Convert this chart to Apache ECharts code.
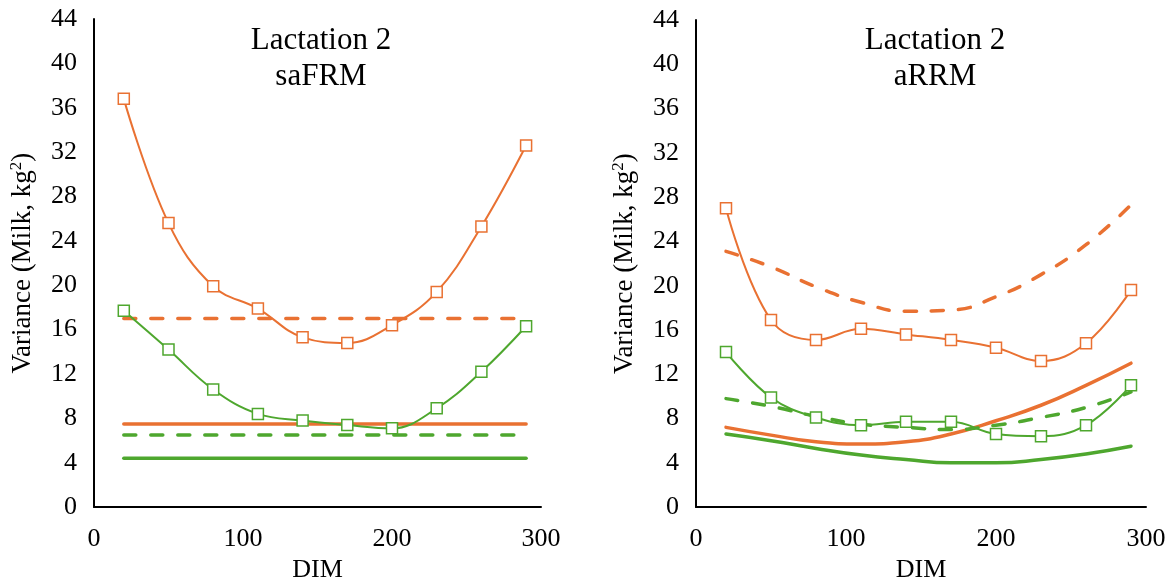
<!DOCTYPE html>
<html>
<head>
<meta charset="utf-8">
<script src="https://cdn.jsdelivr.net/npm/echarts@6/dist/echarts.min.js"></script>
<style>
  html, body { margin: 0; padding: 0; background: #fff; }
  #chart { width: 1174px; height: 588px; }
</style>
</head>
<body>
<div id="chart"></div>
<script>
// days in milk
const dim = [20, 50, 80, 110, 140, 170, 200, 230, 260, 290];

// left panel: saFRM
const saOrangeMarked = [36.8, 25.6, 19.9, 17.9, 15.3, 14.8, 16.4, 19.4, 25.3, 32.6];
const saGreenMarked = [17.7, 14.2, 10.6, 8.4, 7.8, 7.4, 7.1, 8.9, 12.2, 16.3];
const saOrangeDashed = 17.0;
const saOrangeSolid = 7.5;
const saGreenDashed = 6.5;
const saGreenSolid = 4.4;

// right panel: aRRM
const arOrangeMarked = [27.0, 16.9, 15.1, 16.1, 15.6, 15.1, 14.4, 13.2, 14.8, 19.6];
const arGreenMarked = [14.0, 9.9, 8.1, 7.4, 7.7, 7.7, 6.6, 6.4, 7.4, 11.0];
const arOrangeDashed = [23.1, 21.7, 19.9, 18.5, 17.7, 17.8, 19.0, 21.0, 23.7, 27.3];
const arOrangeSolid = [7.2, 6.5, 5.9, 5.7, 5.9, 6.6, 7.8, 9.2, 11.0, 13.0];
const arGreenDashed = [9.8, 9.1, 8.2, 7.5, 7.2, 7.0, 7.4, 8.1, 9.0, 10.4];
const arGreenSolid = [6.6, 6.0, 5.3, 4.7, 4.3, 4.0, 4.0, 4.3, 4.8, 5.5];

const ORANGE = '#E97132';
const GREEN = '#4EA72E';
const FONT = "'Liberation Serif', 'DejaVu Serif', serif";

function pairs(ys) {
  return dim.map((x, i) => [x, ys[i]]);
}
function flat(v) {
  return [[dim[0], v], [dim[dim.length - 1], v]];
}

function markedLine(idx, ys, color) {
  return {
    type: 'line', xAxisIndex: idx, yAxisIndex: idx,
    data: pairs(ys), smooth: 0.4,
    symbol: 'rect', symbolSize: 11,
    itemStyle: { color: '#fff', borderColor: color, borderWidth: 1.5 },
    lineStyle: { color: color, width: 2 },
    z: 3
  };
}
function thickLine(idx, data, color, dashed, smooth) {
  return {
    type: 'line', xAxisIndex: idx, yAxisIndex: idx,
    data: data, smooth: smooth ? 0.5 : false,
    showSymbol: false, symbol: 'none',
    lineStyle: { color: color, width: 3.5, type: dashed ? [12, 15] : 'solid', cap: 'round' },
    z: 2
  };
}

function xAxis(idx) {
  return {
    type: 'value', gridIndex: idx, min: 0, max: 300, interval: 100,
    name: 'DIM', nameLocation: 'middle', nameGap: 45,
    nameTextStyle: { fontFamily: FONT, fontSize: 26, color: '#000' },
    axisLine: { lineStyle: { color: '#000', width: 2 } },
    axisTick: { show: false },
    splitLine: { show: false },
    axisLabel: { fontFamily: FONT, fontSize: 26, color: '#000', margin: 19 }
  };
}
function yAxis(idx) {
  return {
    type: 'value', gridIndex: idx, min: 0, max: 44, interval: 4,
    name: 'Variance (Milk, kg{sup|2})', nameLocation: 'middle', nameGap: 56,
    nameTextStyle: {
      fontFamily: FONT, fontSize: 27, color: '#000', lineHeight: 30,
      rich: { sup: { fontFamily: FONT, fontSize: 17, lineHeight: 17, verticalAlign: 'top', color: '#000' } }
    },
    axisLine: { show: true, lineStyle: { color: '#000', width: 2 } },
    axisTick: { show: false },
    splitLine: { show: false },
    axisLabel: { fontFamily: FONT, fontSize: 26, color: '#000', margin: 17 }
  };
}

const chart = echarts.init(document.getElementById('chart'), null, { renderer: 'canvas' });
chart.setOption({
  animation: false,
  backgroundColor: '#fff',
  title: [
    {
      text: 'Lactation 2\nsaFRM', left: 316, top: 18, textAlign: 'center',
      textStyle: { fontFamily: FONT, fontSize: 31, fontWeight: 'normal', color: '#000', lineHeight: 36 }
    },
    {
      text: 'Lactation 2\naRRM', left: 930, top: 18, textAlign: 'center',
      textStyle: { fontFamily: FONT, fontSize: 31, fontWeight: 'normal', color: '#000', lineHeight: 36 }
    }
  ],
  grid: [
    { left: 94, right: 633, top: 19, bottom: 69 },
    { left: 696, right: 28, top: 20, bottom: 66 }
  ],
  xAxis: [xAxis(0), xAxis(1)],
  yAxis: [yAxis(0), yAxis(1)],
  series: [
    thickLine(0, flat(saOrangeDashed), ORANGE, true, false),
    thickLine(0, flat(saOrangeSolid), ORANGE, false, false),
    thickLine(0, flat(saGreenDashed), GREEN, true, false),
    thickLine(0, flat(saGreenSolid), GREEN, false, false),
    markedLine(0, saOrangeMarked, ORANGE),
    markedLine(0, saGreenMarked, GREEN),

    thickLine(1, pairs(arOrangeDashed), ORANGE, true, true),
    thickLine(1, pairs(arOrangeSolid), ORANGE, false, true),
    thickLine(1, pairs(arGreenDashed), GREEN, true, true),
    thickLine(1, pairs(arGreenSolid), GREEN, false, true),
    markedLine(1, arOrangeMarked, ORANGE),
    markedLine(1, arGreenMarked, GREEN)
  ]
});
</script>
</body>
</html>
